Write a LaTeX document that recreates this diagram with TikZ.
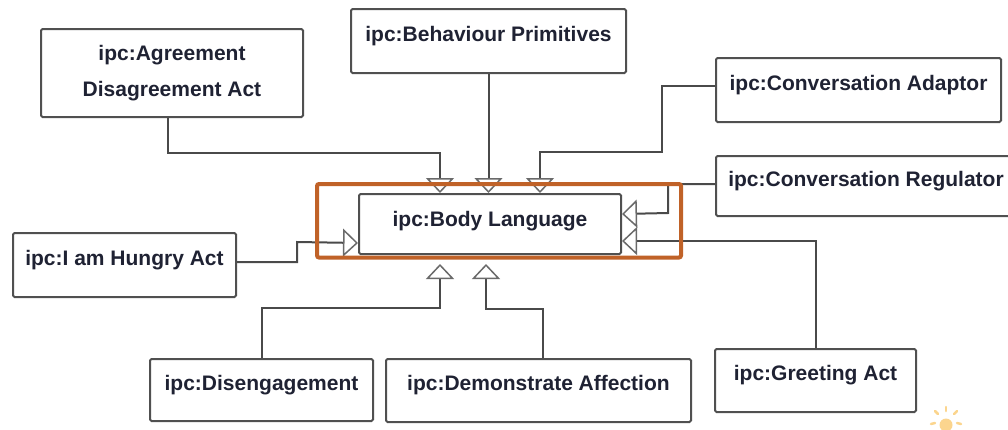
\documentclass[tikz,border=0pt]{standalone}
\usepackage{fontspec}
\newfontfamily\umlfont{Liberation Sans}
\usetikzlibrary{arrows.meta}

\definecolor{boxline}{HTML}{505050}
\definecolor{wire}{HTML}{4A4A4A}
\definecolor{tipline}{HTML}{6A6A6A}
\definecolor{labelink}{HTML}{1F2233}
\definecolor{highlight}{RGB}{192,98,40}
\definecolor{sunlight}{HTML}{FBD58E}

\begin{document}
\begin{tikzpicture}[x=1pt,y=-1pt,
  umlbase/.style={draw=boxline, line width=2pt, rounded corners=1.5pt, fill=white,
    anchor=north west, inner xsep=0pt, inner ysep=0pt, text=labelink,
    font=\umlfont\bfseries\fontsize{21}{36}\selectfont},
  umlclass/.style={umlbase, text height=32.5pt, text depth=31.5pt},
  gen/.style={draw=wire, line width=2pt,
    -{Triangle[open, width=28pt, length=15pt, line width=1.5pt, color=tipline]}},
  frame/.style={draw=highlight, line width=4pt, rounded corners=2pt},
  ray/.style={draw=sunlight, line width=2.5pt, line cap=round},
]
\useasboundingbox[fill=white] (0,0) rectangle (1008,429);

% class boxes
\node[umlbase, align=center, minimum width=262pt, minimum height=88pt] (agr) at (40,28)
  {ipc:Agreement\\Disagreement Act};
\node[umlclass, minimum width=275pt] (beh) at (350,8) {ipc:Behaviour Primitives};
\node[umlclass, minimum width=285pt] (ada) at (715,57) {ipc:Conversation Adaptor};
\node[umlclass, minimum width=300pt, text height=30.5pt, text depth=29.5pt] (reg) at (715,155)
  {ipc:Conversation Regulator};
\node[umlclass, minimum width=262pt, text height=32.5pt, text depth=27.5pt] (body) at (358,193)
  {ipc:Body Language};
\node[umlclass, minimum width=223pt] (hun) at (12,232) {ipc:I am Hungry Act};
\node[umlclass, minimum width=223pt, text height=31.5pt, text depth=30.5pt] (dis) at (149,358)
  {ipc:Disengagement};
\node[umlclass, minimum width=305pt, text height=31.5pt, text depth=31.5pt] (dem) at (385,358)
  {ipc:Demonstrate Affection};
\node[umlclass, minimum width=201pt, text height=31.5pt, text depth=31.5pt] (gre) at (714,348)
  {ipc:Greeting Act};

% generalisation connectors into the central class
\draw[gen] ([xshift=-4pt]agr.south) |- (440,153) -- ([xshift=82pt]body.north west);
\draw[gen] (beh.south) -- (beh.south |- body.north);
\draw[gen] ([yshift=4pt]ada.west) -| (662,152) -| ([xshift=182pt]body.north west);
\draw[gen] ([yshift=2pt]reg.west) -| (668,213) -- ([yshift=10pt]body.east);
\draw[gen] (gre.north) |- ([yshift=-17pt]body.east);
\draw[gen] ([yshift=3pt]hun.east) -| (297,242) -- ([yshift=-19pt]body.west);
\draw[gen] (dis.north) |- (440,308) -- ([xshift=82pt,yshift=-9pt]body.south west);
\draw[gen] ([xshift=4pt]dem.north) |- (486,309) -- ([xshift=128pt,yshift=-9pt]body.south west);

% highlight frame around the central class
\draw[frame] ([xshift=-41pt,yshift=9pt]body.north west) rectangle ([xshift=59pt,yshift=-2.5pt]body.south east);

% small sun mark
\fill[sunlight] (946,425) circle (6.5pt);
\draw[ray] (946,411) -- (946,407);
\draw[ray] (938,414) -- (935,411);
\draw[ray] (954,414) -- (957,411);
\draw[ray] (935,423) -- (931,424);
\draw[ray] (957,423) -- (961,424);
\end{tikzpicture}
\end{document}
